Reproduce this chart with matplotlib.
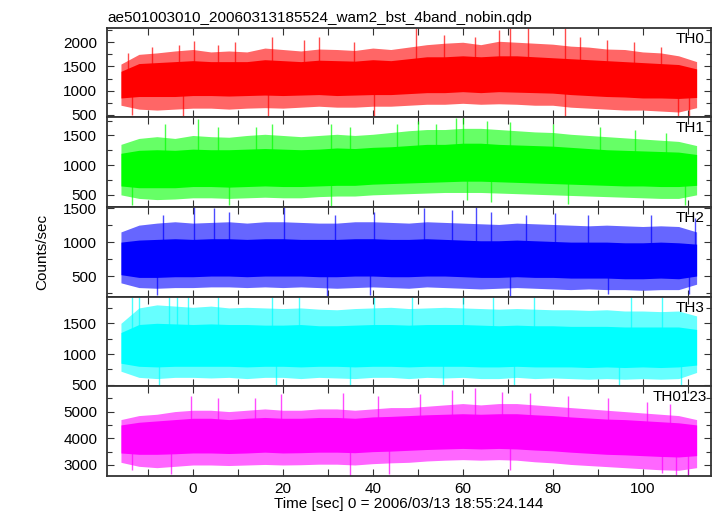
import matplotlib
matplotlib.use("Agg")
import matplotlib.pyplot as plt
from matplotlib.ticker import MultipleLocator

plt.rcParams['font.family'] = ['Liberation Sans', 'DejaVu Sans']

TITLE = "ae501003010_20060313185524_wam2_bst_4band_nobin.qdp"
XLABEL = "Time [sec] 0 = 2006/03/13 18:55:24.144"
YLABEL = "Counts/sec"

t_grid = [-16, -12, -8, -4, 0, 4, 8, 12, 16, 20, 24, 28, 32, 36, 40, 44, 48,
          52, 56, 60, 64, 68, 72, 76, 80, 84, 88, 92, 96, 100, 104, 108, 112]

names = ["TH0", "TH1", "TH2", "TH3", "TH0123"]
colors = ["#ff0000", "#00ff00", "#0000ff", "#00ffff", "#ff00ff"]
ylims = [(450, 2300), (295, 1805), (196, 1517), (474, 1933), (2588, 5945)]
major_steps = [500, 500, 500, 500, 1000]
minor_steps = [250, 250, 250, 250, 500]

# ---- TH0 ----
th0_hi_out = [1550, 1750, 1780, 1820, 1850, 1800, 1820, 1800, 1880, 1850, 1820, 1860, 1850, 1830, 1880, 1850, 1900,
              1950, 1980, 2000, 1950, 2020, 2000, 1980, 1960, 1920, 1900, 1860, 1850, 1800, 1780, 1720, 1600]
th0_hi_core = [1400, 1560, 1580, 1600, 1620, 1600, 1600, 1600, 1640, 1620, 1600, 1630, 1620, 1610, 1640, 1620, 1660,
               1700, 1700, 1720, 1700, 1720, 1720, 1700, 1680, 1660, 1640, 1620, 1600, 1580, 1560, 1540, 1450]
th0_lo_core = [850, 880, 880, 880, 900, 900, 890, 900, 910, 900, 910, 920, 900, 910, 920, 920, 940,
               960, 960, 980, 960, 980, 970, 960, 950, 920, 900, 880, 870, 850, 850, 840, 860]
th0_lo_out = [700, 620, 600, 620, 640, 640, 620, 640, 650, 640, 660, 680, 660, 660, 680, 680, 700,
              720, 720, 740, 720, 730, 720, 700, 700, 660, 640, 620, 600, 600, 580, 560, 650]
th0_spk_t = [-14.5, -9.2, -3.2, 0.3, 5.5, 9.4, 17.6, 24.6, 28, 35.8, 49.7, 55.8, 62.7, 68, 70.5, 74.4, 82.7, 86, 92, 98, 104,
             -13.6, -2.3, 16.7, 40.2, 82.7, 107.8, 110.4]
th0_spk_v = [1780, 1900, 1950, 2030, 1950, 2000, 2100, 2050, 2100, 2000, 2300, 2150, 2100, 2250, 2300, 2300, 2300, 2100, 2050, 2000, 1900,
             500, 480, 470, 460, 460, 470, 460]

# ---- TH1 ----
th1_hi_out = [1350, 1450, 1480, 1450, 1500, 1480, 1470, 1500, 1520, 1500, 1480, 1500, 1520, 1500, 1520, 1550, 1580,
              1600, 1600, 1620, 1620, 1600, 1580, 1560, 1550, 1520, 1500, 1480, 1460, 1440, 1420, 1400, 1330]
th1_hi_core = [1200, 1250, 1260, 1250, 1270, 1260, 1260, 1270, 1280, 1270, 1260, 1270, 1290, 1280, 1300, 1310, 1330,
               1350, 1350, 1370, 1370, 1350, 1340, 1330, 1320, 1300, 1280, 1260, 1250, 1240, 1230, 1220, 1180]
th1_lo_core = [650, 620, 620, 620, 640, 640, 630, 640, 650, 640, 640, 650, 660, 660, 680, 690, 700,
               710, 720, 730, 730, 720, 710, 700, 690, 680, 670, 660, 650, 650, 640, 640, 660]
th1_lo_out = [500, 440, 420, 430, 450, 450, 440, 450, 460, 450, 450, 470, 480, 480, 500, 510, 520,
              530, 540, 540, 540, 530, 520, 510, 500, 490, 480, 470, 460, 450, 440, 440, 500]
th1_spk_t = [-6.2, 1.1, 5.5, 14.1, 17.6, 30.6, 34.9, 45.4, 50.1, 54, 58.4, 60.1, 65.3, 70.5, 80.1, 90.5, 98.3, 105.3,
             -13.6, 8, 30.6, 61, 66.2, 83.5, 109.5]
th1_spk_v = [1700, 1780, 1650, 1650, 1700, 1700, 1650, 1700, 1750, 1700, 1800, 1800, 1750, 1720, 1700, 1650, 1600, 1550,
             330, 330, 300, 420, 380, 350, 330]

# ---- TH2 ----
th2_hi_out = [1150, 1250, 1280, 1300, 1280, 1290, 1300, 1280, 1300, 1300, 1290, 1280, 1280, 1300, 1300, 1290, 1280,
              1300, 1290, 1280, 1270, 1260, 1280, 1270, 1260, 1250, 1240, 1250, 1240, 1230, 1240, 1230, 1150]
th2_hi_core = [1000, 1030, 1040, 1050, 1040, 1050, 1050, 1040, 1050, 1050, 1040, 1040, 1040, 1050, 1050, 1040, 1040,
               1050, 1040, 1030, 1020, 1020, 1030, 1020, 1010, 1000, 1000, 1000, 990, 990, 1000, 990, 970]
th2_lo_core = [520, 480, 480, 490, 490, 500, 500, 490, 500, 500, 500, 490, 490, 500, 500, 490, 490,
               500, 500, 490, 480, 480, 490, 480, 480, 470, 470, 470, 460, 460, 470, 460, 500]
th2_lo_out = [400, 330, 320, 330, 330, 340, 340, 330, 340, 330, 340, 330, 320, 330, 340, 330, 320,
              340, 330, 320, 310, 320, 330, 320, 310, 300, 310, 300, 300, 290, 300, 300, 380]
th2_spk_t = [-6.7, 0.3, 4.6, 8, 20.2, 31.5, 40.2, 51.4, 57.5, 63, 66.2, 74, 80.5, 87.9, 101.8, 111.7,
             -7.9, 29.8, 39.3, 70.5, 92.2, 110.4]
th2_spk_v = [1400, 1520, 1500, 1450, 1520, 1400, 1450, 1500, 1480, 1520, 1450, 1400, 1430, 1400, 1400, 1350,
             220, 200, 220, 200, 230, 230]

# ---- TH3 ----
th3_hi_out = [1500, 1750, 1800, 1780, 1760, 1780, 1750, 1760, 1750, 1740, 1750, 1730, 1720, 1740, 1750, 1760, 1740,
              1750, 1760, 1750, 1740, 1730, 1740, 1730, 1720, 1720, 1710, 1720, 1700, 1700, 1690, 1700, 1620]
th3_hi_core = [1350, 1480, 1500, 1490, 1480, 1490, 1480, 1480, 1470, 1470, 1480, 1460, 1460, 1470, 1480, 1480, 1470,
               1480, 1480, 1480, 1470, 1460, 1470, 1460, 1460, 1450, 1450, 1450, 1440, 1440, 1440, 1440, 1400]
th3_lo_core = [850, 800, 790, 800, 800, 800, 800, 790, 800, 800, 790, 800, 800, 790, 800, 800, 790,
               800, 800, 800, 790, 790, 800, 790, 790, 790, 780, 790, 780, 790, 780, 790, 820]
th3_lo_out = [720, 620, 600, 620, 620, 610, 620, 600, 620, 620, 600, 620, 610, 600, 620, 620, 600,
              620, 610, 620, 600, 600, 620, 600, 610, 600, 590, 600, 590, 600, 590, 600, 700]
th3_spk_t = [-13.6, -11.9, -5.3, -3.6, -1, 5.5, 17.6, 23.7, 40.2, 48.8, 60.1, 66.7, 75.8, 97.5, 104.4,
             -7.5, 18.5, 34.9, 55.6, 71.3, 94.8, 108.6]
th3_spk_v = [1930, 1930, 1930, 1930, 1930, 1930, 1930, 1930, 1930, 1930, 1930, 1930, 1930, 1930, 1930,
             500, 490, 490, 480, 490, 500, 490]

# ---- TH0123 ----
th4_hi_out = [4700, 4850, 4900, 5000, 5050, 5050, 5000, 5050, 5100, 5050, 5050, 5100, 5100, 5050, 5100, 5150, 5150,
              5200, 5250, 5300, 5250, 5300, 5300, 5250, 5200, 5150, 5100, 5050, 5000, 4950, 4900, 4850, 4700]
th4_hi_core = [4500, 4600, 4650, 4700, 4750, 4750, 4700, 4750, 4780, 4750, 4750, 4780, 4780, 4750, 4800, 4820, 4850,
               4880, 4900, 4920, 4900, 4920, 4920, 4880, 4850, 4800, 4760, 4720, 4700, 4660, 4620, 4580, 4500]
th4_lo_core = [3450, 3400, 3400, 3420, 3450, 3450, 3430, 3450, 3480, 3450, 3460, 3480, 3480, 3460, 3500, 3520, 3550,
               3580, 3600, 3620, 3600, 3620, 3600, 3560, 3530, 3480, 3440, 3400, 3380, 3350, 3320, 3300, 3350]
th4_lo_out = [3100, 2950, 2900, 2950, 3000, 3000, 2980, 3000, 3020, 3000, 3010, 3030, 3030, 3000, 3050, 3080, 3100,
              3150, 3180, 3200, 3180, 3200, 3180, 3120, 3080, 3020, 2980, 2940, 2900, 2860, 2820, 2800, 2900]
th4_spk_t = [-0.4, 5.5, 13.7, 19.6, 33.3, 41.1, 50.5, 57.5, 62.7, 68.7, 74.9, 83.5, 92.2, 100.9, 106.1,
             -13.6, -4.9, 34.9, 43.6, 70.5, 104.4, 107.4, 110.0]
th4_spk_v = [5600, 5500, 5500, 5650, 5700, 5600, 5650, 5800, 5900, 5750, 5700, 5600, 5500, 5350, 5300,
             2800, 2650, 2600, 2650, 2800, 2700, 2600, 2600]

series = [
    (th0_hi_out, th0_hi_core, th0_lo_core, th0_lo_out, th0_spk_t, th0_spk_v),
    (th1_hi_out, th1_hi_core, th1_lo_core, th1_lo_out, th1_spk_t, th1_spk_v),
    (th2_hi_out, th2_hi_core, th2_lo_core, th2_lo_out, th2_spk_t, th2_spk_v),
    (th3_hi_out, th3_hi_core, th3_lo_core, th3_lo_out, th3_spk_t, th3_spk_v),
    (th4_hi_out, th4_hi_core, th4_lo_core, th4_lo_out, th4_spk_t, th4_spk_v),
]

W, H = 717, 516
fig = plt.figure(figsize=(W / 100, H / 100), dpi=100)
left, right = 107 / W, 711 / W
top_px, bot_px = 27.7, 476.0
ph = (bot_px - top_px) / 5

axes = []
for i in range(5):
    y0 = 1 - (top_px + (i + 1) * ph) / H
    ax = fig.add_axes([left, y0, right - left, ph / H])
    axes.append(ax)
    hi_out, hi_core, lo_core, lo_out, spk_t, spk_v = series[i]
    c = colors[i]
    ax.fill_between(t_grid, lo_out, hi_out, color=c, alpha=0.6, lw=0)
    ax.fill_between(t_grid, lo_core, hi_core, color=c, alpha=1.0, lw=0)
    mids = [(a + b) / 2 for a, b in zip(hi_core, lo_core)]
    base = sum(mids) / len(mids)
    ax.vlines(spk_t, [base] * len(spk_t), spk_v, color=c, lw=1.0, alpha=0.7)
    ax.set_xlim(-19.1, 115.2)
    ax.set_ylim(*ylims[i])
    ax.xaxis.set_major_locator(MultipleLocator(20))
    ax.xaxis.set_minor_locator(MultipleLocator(10))
    ax.yaxis.set_major_locator(MultipleLocator(major_steps[i]))
    ax.yaxis.set_minor_locator(MultipleLocator(minor_steps[i]))
    ax.tick_params(which='both', direction='in', top=True, right=True, color='#333333')
    ax.tick_params(which='major', length=5, width=0.8, labelsize=11, pad=7)
    ax.tick_params(which='minor', length=3.5, width=0.8)
    ax.tick_params(axis='x', which='minor', length=5)
    for sp in ax.spines.values():
        sp.set_linewidth(1.3)
        sp.set_color('#333333')
    if i < 4:
        ax.tick_params(axis='x', labelbottom=False)
    else:
        ax.tick_params(axis='x', pad=4)
    xt = 0.993 if names[i] == "TH0123" else 0.99
    ax.text(xt, 0.955, names[i], transform=ax.transAxes, ha='right', va='top', fontsize=11)

axes[0].set_title(TITLE, loc='left', fontsize=11, pad=4)
axes[4].set_xlabel(XLABEL, fontsize=11, labelpad=1)
fig.text(42 / W, 1 - 252 / H, YLABEL, rotation=90, ha='center', va='center', fontsize=11)

fig.savefig("out.png", dpi=100)
